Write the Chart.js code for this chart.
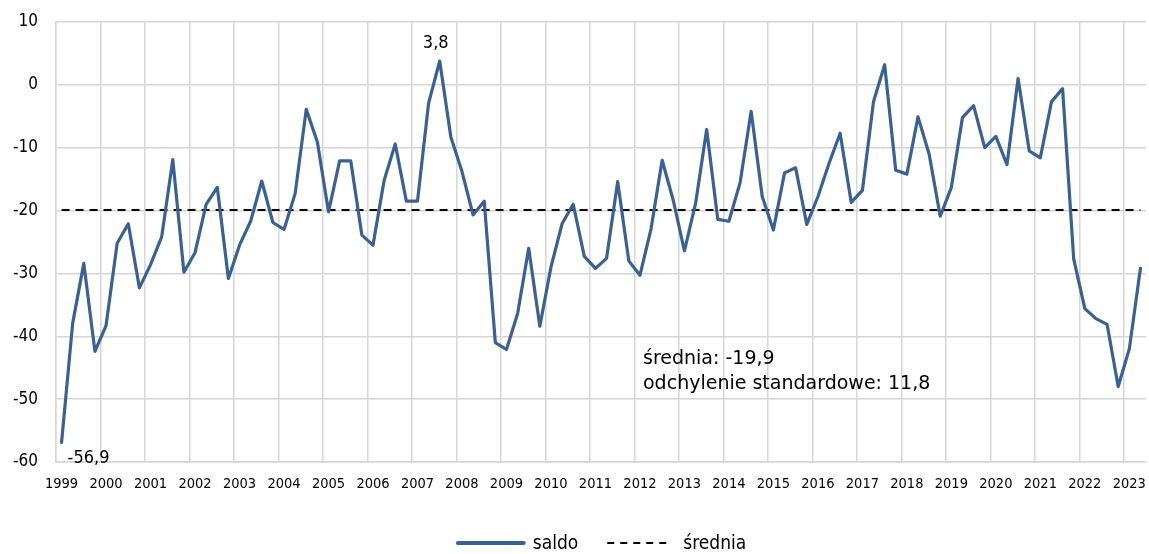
<!DOCTYPE html>
<html lang="pl">
<head>
<meta charset="utf-8">
<title>saldo</title>
<script src="https://cdn.jsdelivr.net/npm/chart.js@4.4.1/dist/chart.umd.min.js"></script>
<style>
  html, body { margin: 0; padding: 0; background: #fff; }
  #wrap { position: relative; width: 1149px; height: 554px; }
</style>
</head>
<body>
<div id="wrap"><canvas id="saldo-chart"></canvas></div>
<script>
// quarterly balance, 1999 Q1 .. 2023 Q2
const years = ['1999', '2000', '2001', '2002', '2003', '2004', '2005', '2006', '2007', '2008', '2009', '2010',
  '2011', '2012', '2013', '2014', '2015', '2016', '2017', '2018', '2019', '2020', '2021', '2022', '2023'];

const saldo = [
  -56.9, -37.9, -28.4, -42.4,   // 1999
  -38.3, -25.2, -22.1, -32.3,   // 2000
  -28.6, -24.2, -11.9, -29.8,   // 2001
  -26.7, -19.0, -16.3, -30.8,   // 2002
  -25.5, -21.7, -15.3, -21.9,   // 2003
  -23.0, -17.3, -3.9, -9.1,     // 2004
  -20.2, -12.1, -12.1, -23.9,   // 2005
  -25.5, -15.2, -9.4, -18.5,    // 2006
  -18.5, -2.9, 3.8, -8.3,       // 2007
  -13.8, -20.7, -18.5, -41.0,   // 2008
  -42.1, -36.4, -26.0, -38.4,   // 2009
  -29.0, -22.1, -19.0, -27.3,   // 2010
  -29.2, -27.6, -15.4, -28.0,   // 2011
  -30.3, -22.9, -12.0, -18.4,   // 2012
  -26.4, -18.9, -7.1, -21.4,    // 2013
  -21.7, -15.6, -4.2, -17.8,    // 2014
  -23.1, -14.0, -13.2, -22.2,   // 2015
  -17.8, -12.5, -7.7, -18.7,    // 2016
  -16.8, -2.7, 3.2, -13.6,      // 2017
  -14.2, -5.1, -11.0, -20.9,    // 2018
  -16.3, -5.2, -3.3, -10.0,     // 2019
  -8.2, -12.7, 1.0, -10.5,      // 2020
  -11.6, -2.7, -0.6, -27.7,     // 2021
  -35.6, -37.2, -38.1, -48.0,   // 2022
  -42.0, -29.2                  // 2023
];

const sredniaValue = -19.9;
const odchylenieValue = 11.8;

const yTicks = { min: -60, max: 10, step: 10 };

// one category per quarter, year name only on Q1
const labels = [];
years.forEach(y => { for (let q = 1; q <= 4; q++) labels.push(q === 1 ? y : y + ' Q' + q); });
labels.length = saldo.length;

const srednia = labels.map(() => sredniaValue);

const fmt = v => v.toFixed(1).replace('.', ',');

const FONT_AXIS = '"DejaVu Sans Condensed", "DejaVu Sans", sans-serif';
const GRID = '#d6d6d6';
const LINE_BLUE = '#3a6191';

// point labels for min / max and the stats note
const notesPlugin = {
  id: 'notes',
  afterDatasetsDraw(chart) {
    const ctx = chart.ctx;
    const pts = chart.getDatasetMeta(0).data;
    const minIdx = saldo.indexOf(Math.min(...saldo));
    const maxIdx = saldo.indexOf(Math.max(...saldo));
    ctx.save();
    ctx.fillStyle = '#000';
    ctx.font = '18px ' + FONT_AXIS;
    ctx.textBaseline = 'alphabetic';
    ctx.textAlign = 'left';
    ctx.fillText(fmt(saldo[minIdx]), pts[minIdx].x + 6, pts[minIdx].y + 20);
    ctx.textAlign = 'center';
    ctx.fillText(fmt(saldo[maxIdx]), pts[maxIdx].x - 4, pts[maxIdx].y - 13);

    ctx.font = '19px "DejaVu Sans", sans-serif';
    ctx.textAlign = 'left';
    const nx = chart.chartArea.left + 587;
    const ny = chart.scales.y.getPixelForValue(-44.4);
    ctx.fillText('średnia: ' + fmt(sredniaValue), nx, ny);
    ctx.fillText('odchylenie standardowe: ' + fmt(odchylenieValue), nx, ny + 25);
    ctx.restore();
  }
};

// legend under the axis: solid sample for saldo, dashed for średnia
const legendPlugin = {
  id: 'bottomLegend',
  afterDraw(chart) {
    const ctx = chart.ctx;
    const area = chart.chartArea;
    const cy = chart.height - 11;
    const gapItem = 29;
    ctx.save();
    ctx.font = '19px ' + FONT_AXIS;
    ctx.textBaseline = 'middle';
    ctx.textAlign = 'left';
    const items = chart.data.datasets.map(ds => {
      const dashed = !!ds.borderDash;
      const sample = dashed ? 63 : 70;
      const gapText = dashed ? 13 : 7;
      return { ds, dashed, sample, gapText, w: sample + gapText + ctx.measureText(ds.label).width };
    });
    const total = items.reduce((s, it) => s + it.w, 0) + gapItem * (items.length - 1);
    let x = (area.left + area.right) / 2 - total / 2;
    items.forEach(({ ds, dashed, sample, gapText, w }) => {
      ctx.beginPath();
      ctx.strokeStyle = ds.borderColor;
      ctx.lineWidth = dashed ? ds.borderWidth : ds.borderWidth + 0.6;
      ctx.lineCap = dashed ? 'butt' : 'round';
      ctx.setLineDash(dashed ? [7, 6] : []);
      ctx.moveTo(x + (dashed ? 0 : 2), cy);
      ctx.lineTo(x + sample - (dashed ? 0 : 2), cy);
      ctx.stroke();
      ctx.setLineDash([]);
      ctx.fillStyle = '#000';
      ctx.fillText(ds.label, x + sample + gapText, cy + 1);
      x += w + gapItem;
    });
    ctx.restore();
  }
};

new Chart(document.getElementById('saldo-chart'), {
  type: 'line',
  data: {
    labels: labels,
    datasets: [
      {
        label: 'saldo',
        data: saldo,
        borderColor: LINE_BLUE,
        backgroundColor: LINE_BLUE,
        borderWidth: 3.2,
        borderJoinStyle: 'round',
        borderCapStyle: 'round',
        pointRadius: 0,
        pointHoverRadius: 0,
        tension: 0
      },
      {
        label: 'średnia',
        data: srednia,
        borderColor: '#000',
        backgroundColor: '#000',
        borderWidth: 2,
        borderDash: [8, 6],
        borderCapStyle: 'butt',
        pointRadius: 0,
        pointHoverRadius: 0,
        tension: 0
      }
    ]
  },
  options: {
    responsive: true,
    maintainAspectRatio: false,
    animation: false,
    layout: { padding: { left: 0, right: 3, top: 22, bottom: 46.6 } },
    scales: {
      x: {
        offset: true,
        afterFit: s => { s.paddingLeft = 0; s.paddingRight = 0; },
        grid: {
          offset: true,
          drawTicks: false,
          lineWidth: 1.5,
          color: c => (c.index % 4 === 0 ? GRID : 'rgba(0,0,0,0)')
        },
        border: { display: true, color: GRID, width: 1.5 },
        ticks: {
          autoSkip: false,
          maxRotation: 0,
          minRotation: 0,
          padding: 14,
          color: '#000',
          font: { family: FONT_AXIS, size: 14.5 },
          callback: function (val, idx) { return idx % 4 === 0 ? years[idx / 4] : ''; }
        }
      },
      y: {
        min: yTicks.min,
        max: yTicks.max,
        afterFit: s => { s.width = 56; s.paddingTop = 0; s.paddingBottom = 0; },
        grid: { drawTicks: false, color: GRID, lineWidth: 1.5 },
        border: { display: true, color: GRID, width: 1.5 },
        ticks: {
          stepSize: yTicks.step,
          padding: 18,
          color: '#000',
          font: { family: FONT_AXIS, size: 17 }
        }
      }
    },
    plugins: {
      tooltip: { enabled: false },
      legend: { display: false }
    }
  },
  plugins: [notesPlugin, legendPlugin]
});
</script>
</body>
</html>
